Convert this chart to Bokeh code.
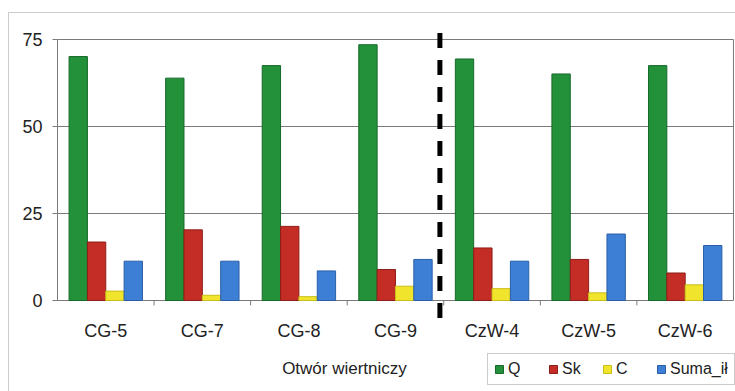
from bokeh.plotting import figure
from bokeh.models import (Range1d, ColumnDataSource, FixedTicker, Legend, LegendItem,
                          Label, BoxAnnotation, LinearAxis)
from bokeh.transform import dodge
from bokeh.embed import file_html
from bokeh.resources import INLINE

categories = ["CG-5", "CG-7", "CG-8", "CG-9", "CzW-4", "CzW-5", "CzW-6"]
Q = [70.1, 63.9, 67.5, 73.5, 69.4, 65.1, 67.5]
Sk = [16.8, 20.3, 21.3, 8.9, 15.1, 11.8, 7.9]
C = [2.7, 1.5, 1.1, 4.1, 3.4, 2.2, 4.5]
Suma_il = [11.3, 11.3, 8.5, 11.8, 11.3, 19.1, 15.8]
series_names = ["Q", "Sk", "C", "Suma_ił"]
y_ticks = [0, 25, 50, 75]
x_title = "Otwór wiertniczy"

colors = ["#23903a", "#c32d26", "#f1e42c", "#3c7fd4"]
edges = ["#17692a", "#8e1d18", "#c9bd1a", "#2a5fa8"]

n = len(categories)
xc = [i + 0.5 for i in range(n)]  # category centres (one unit per category)
src = ColumnDataSource(dict(x=xc, Q=Q, Sk=Sk, C=C, Suma=Suma_il))

FONT = "Liberation Sans"
W, H = 735, 391
p = figure(x_range=Range1d(-0.590, 7.021), y_range=Range1d(-26.15, 86.21),
           width=W, height=H, output_backend="svg", toolbar_location=None,
           min_border=0, x_axis_location=None, y_axis_location=None)
p.outline_line_color = None
p.background_fill_color = "white"
p.border_fill_color = "white"
p.xgrid.visible = False
p.ygrid.visible = False

w = 0.19
offsets = [-1.5 * w, -0.5 * w, 0.5 * w, 1.5 * w]
cols = ["Q", "Sk", "C", "Suma"]
renderers = []
for col, off, fc, ec in zip(cols, offsets, colors, edges):
    r = p.vbar(x=dodge("x", off), top=col, bottom=0, width=w,
               source=src, fill_color=fc, line_color=ec, line_width=1)
    renderers.append(r)

# gridlines (plot-area wide) and right edge of the plot area
p.segment(x0=[0] * len(y_ticks), x1=[n] * len(y_ticks), y0=y_ticks, y1=y_ticks,
          line_color="#7a7a7a", line_width=1, level="underlay")
p.segment(x0=[n], y0=[y_ticks[0]], x1=[n], y1=[y_ticks[-1]], line_color="#7a7a7a", line_width=1)
bx = list(range(1, n))
p.segment(x0=bx, y0=[0] * len(bx), x1=bx, y1=[-1.4] * len(bx), line_color="#7a7a7a", line_width=1)

# y axis drawn at the left edge of the plot area
yax = LinearAxis(ticker=FixedTicker(ticks=y_ticks), bounds=(0, 75), fixed_location=0)
yax.axis_line_color = "#7a7a7a"
yax.major_tick_line_color = "#7a7a7a"
yax.major_tick_out = 5
yax.major_tick_in = 0
yax.minor_tick_line_color = None
yax.major_label_standoff = 10
yax.major_label_text_font = FONT
yax.major_label_text_font_size = "18px"
yax.major_label_text_color = "#222222"
p.add_layout(yax, "left")

# x axis at y = 0, labels only
xax = LinearAxis(ticker=FixedTicker(ticks=xc), fixed_location=0,
                 major_label_overrides={x: c for x, c in zip(xc, categories)})
xax.axis_line_color = None
xax.major_tick_line_color = None
xax.major_tick_out = 0
xax.major_tick_in = 0
xax.minor_tick_line_color = None
xax.major_label_standoff = 20
xax.major_label_text_font = FONT
xax.major_label_text_font_size = "18px"
xax.major_label_text_color = "#222222"
p.add_layout(xax, "below")

# dashed separator between CG and CzW wells (drawn from the top down)
n_cg = sum(1 for c in categories if c.startswith("CG"))
p.segment(x0=[n_cg - 0.04], x1=[n_cg - 0.04], y0=[76.87], y1=[-6.24],
          line_color="black", line_width=5, line_dash="15 12")

# x title
p.add_layout(Label(x=2.972, y=-19.5, text=x_title,
                   text_font=FONT, text_font_size="17px", text_color="#222222",
                   text_align="center", text_baseline="middle"))

# outer border of the chart
p.add_layout(BoxAnnotation(left=-0.507, right=9, top=82.76, bottom=-40,
                           fill_alpha=0, line_color="#555555", line_width=1))

legend = Legend(items=[LegendItem(label=nm, renderers=[r]) for nm, r in zip(series_names, renderers)],
                location=(487, 6), orientation="horizontal")
legend.label_text_font = FONT
legend.label_text_font_size = "16px"
legend.label_text_color = "#222222"
legend.glyph_width = 10
legend.glyph_height = 10
legend.label_standoff = 4
legend.spacing = 20
legend.padding = 6
legend.margin = 0
legend.border_line_color = "#999999"
legend.border_line_width = 1
legend.background_fill_color = "white"
legend.background_fill_alpha = 1
p.add_layout(legend, "center")

open("out.html", "w").write(file_html(p, INLINE))
